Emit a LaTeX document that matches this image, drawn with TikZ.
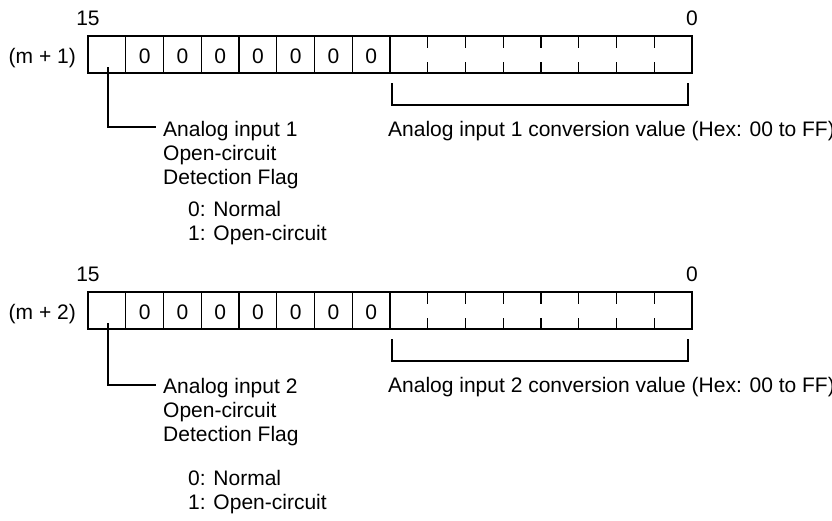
\documentclass[tikz,border=0pt]{standalone}
\usepackage{fontspec}
\setmainfont{Liberation Sans}
\usetikzlibrary{calc}

\begin{document}
\begin{tikzpicture}[
  x=1pt, y=-1pt,
  every node/.style={font=\fontsize{21}{25}\selectfont, inner sep=0pt},
  word/.style={rectangle, draw, line width=1.2pt, outer sep=0pt,
               minimum width=604pt, minimum height=37pt, anchor=north west},
  line/.style={line width=1.2pt},
  lbl/.style={anchor=base west},
  bit/.style={anchor=base}
]
\useasboundingbox (0,0) rectangle (832,520);

% word (m + 1)
\node[bit] (hi1) at (88,25) {15};
\node[bit] (lo1) at (692,25) {0};
\node[word] (w1) at (88,36) {};
\node[anchor=base east] (a1) at (76,63.5) {(m + 1)};
\foreach \i in {1,...,8}
  \draw[line] ($(w1.north west)+(\i*37.75,0)$) -- ($(w1.south west)+(\i*37.75,0)$);
\foreach \i in {1,...,7}
  \node[bit] (z1\i) at (88+\i*37.75+18.875,63.5) {0};
\foreach \i in {9,...,15} {
  \draw[line] ($(w1.north west)+(\i*37.75,0)$) -- ++(0,11.5);
  \draw[line] ($(w1.south west)+(\i*37.75,0)$) -- ++(0,-11.5);
}
\coordinate (fl1) at (108,67);
\node[lbl] (f1a) at (163,136) {Analog input 1};
\node[lbl] (f1b) at (163,160) {Open-circuit};
\node[lbl] (f1c) at (163,184) {Detection Flag};
\node[lbl] (s1a) at (188,216) {0: Normal};
\node[lbl] (s1b) at (188,240) {1: Open-circuit};
\draw[line] (fl1) |- ($(f1a.base west)+(-7,-9)$);
\coordinate (bl1) at (392,83);
\coordinate (br1) at (688,83);
\draw[line] (bl1) -- ++(0,22) -| (br1);
\node[lbl] (v1) at (388,136) {Analog input 1 conversion value (Hex: 00 to FF)};

% word (m + 2)
\node[bit] (hi2) at (88,281) {15};
\node[bit] (lo2) at (692,281) {0};
\node[word] (w2) at (88,292) {};
\node[anchor=base east] (a2) at (76,319.5) {(m + 2)};
\foreach \i in {1,...,8}
  \draw[line] ($(w2.north west)+(\i*37.75,0)$) -- ($(w2.south west)+(\i*37.75,0)$);
\foreach \i in {1,...,7}
  \node[bit] (z2\i) at (88+\i*37.75+18.875,319.5) {0};
\foreach \i in {9,...,15} {
  \draw[line] ($(w2.north west)+(\i*37.75,0)$) -- ++(0,11.5);
  \draw[line] ($(w2.south west)+(\i*37.75,0)$) -- ++(0,-11.5);
}
\coordinate (fl2) at (108,323);
\node[lbl] (f2a) at (163,393) {Analog input 2};
\node[lbl] (f2b) at (163,417) {Open-circuit};
\node[lbl] (f2c) at (163,441) {Detection Flag};
\node[lbl] (s2a) at (188,485) {0: Normal};
\node[lbl] (s2b) at (188,509) {1: Open-circuit};
\draw[line] (fl2) |- ($(f2a.base west)+(-7,-8)$);
\coordinate (bl2) at (392,339);
\coordinate (br2) at (688,339);
\draw[line] (bl2) -- ++(0,22) -| (br2);
\node[lbl] (v2) at (388,392) {Analog input 2 conversion value (Hex: 00 to FF)};
\end{tikzpicture}
\end{document}
